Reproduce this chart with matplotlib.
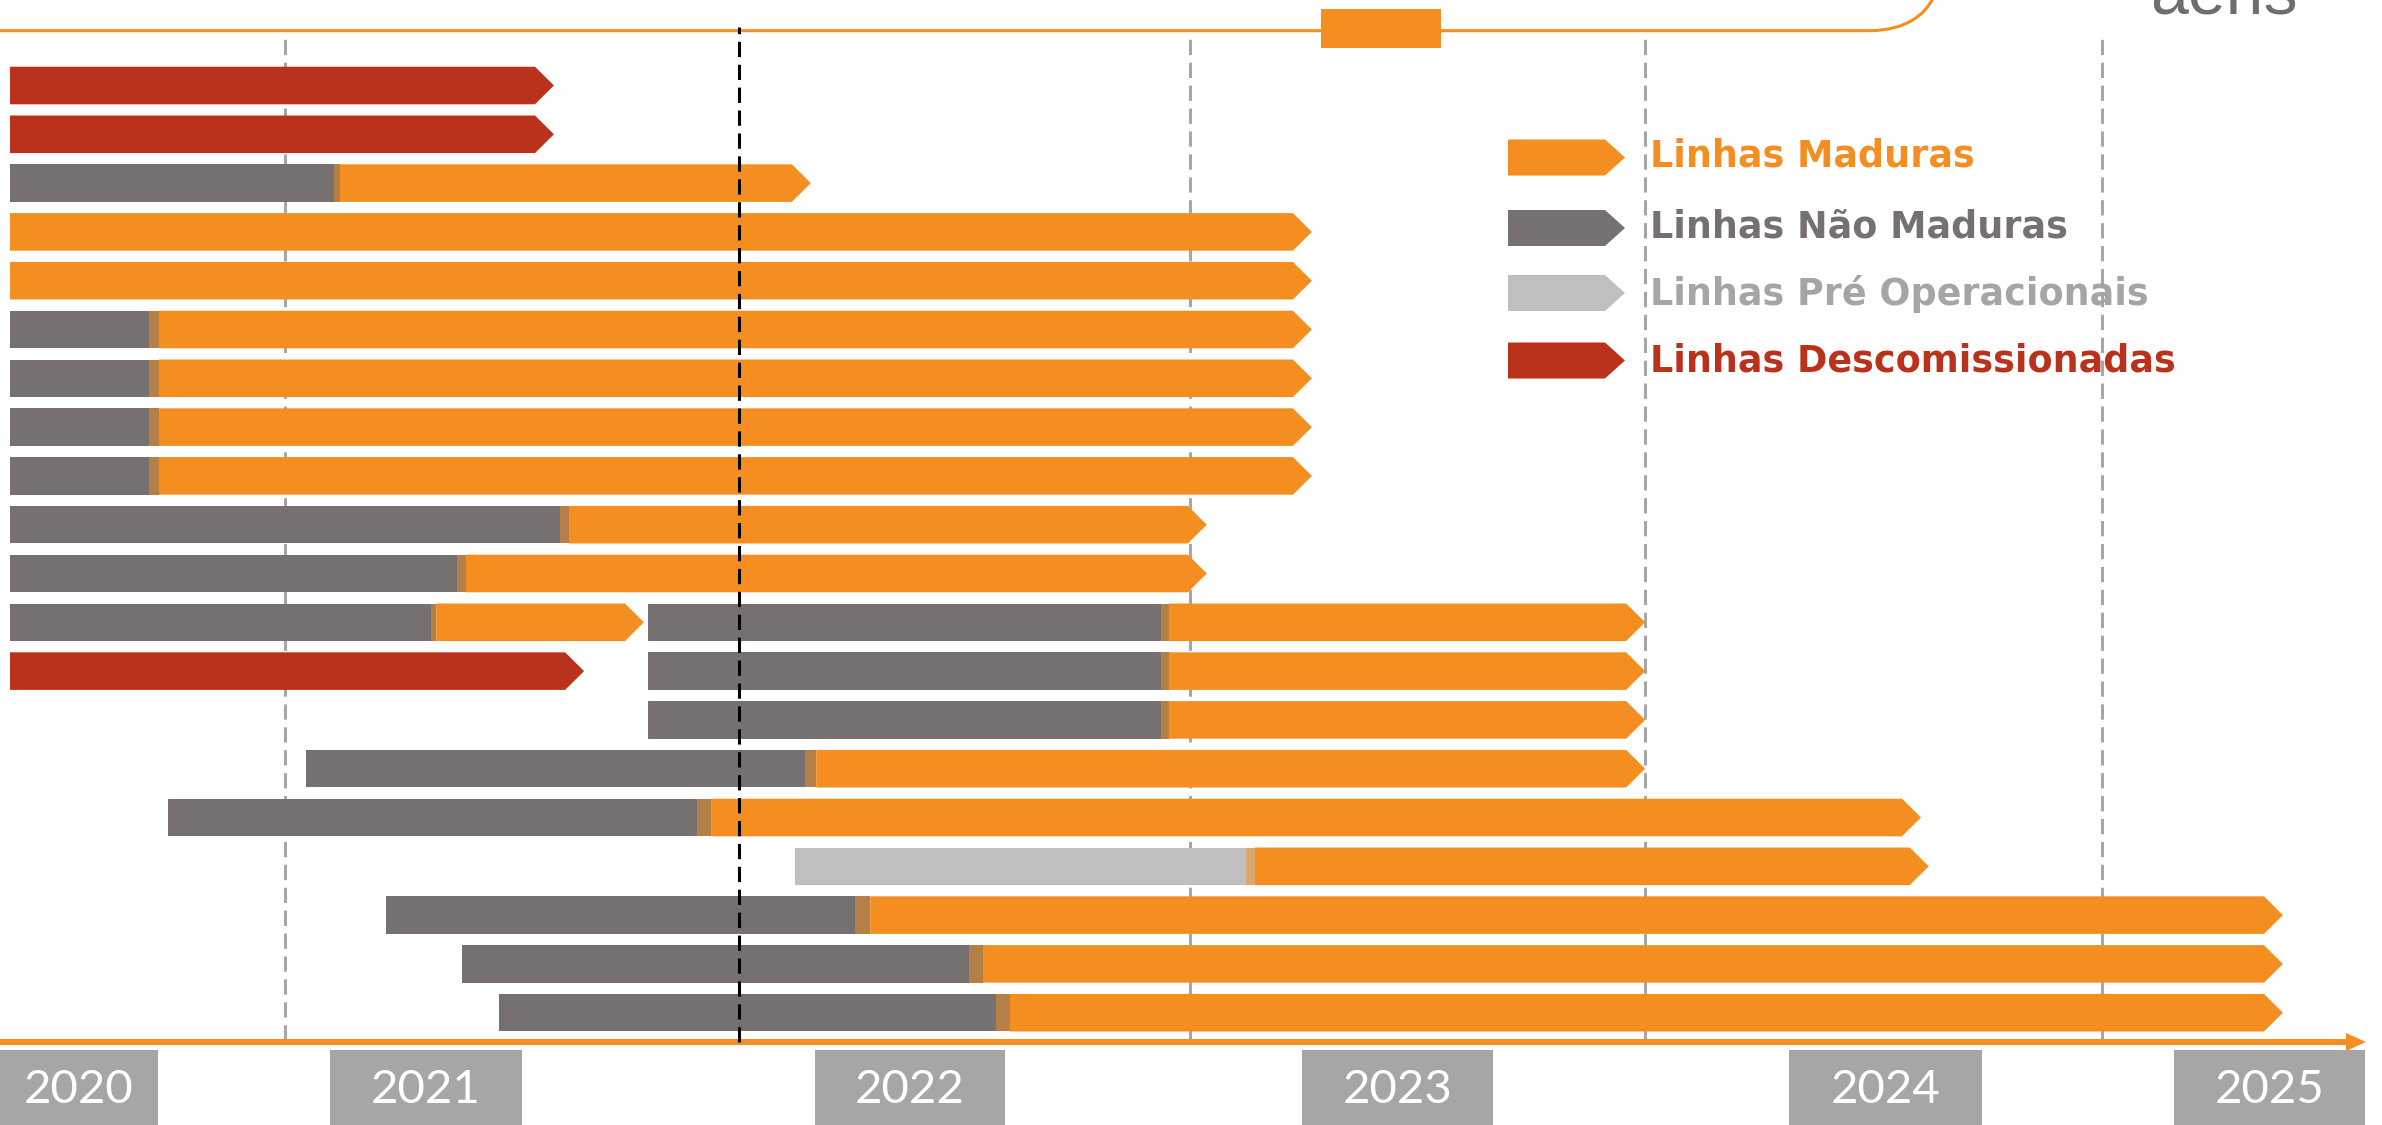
import matplotlib
matplotlib.use("Agg")
import matplotlib.pyplot as plt
from matplotlib.patches import Polygon, Rectangle, PathPatch
from matplotlib.path import Path

# Colours
ORANGE = "#F48E20"
GRAY = "#767170"
LIGHT = "#BFBFBF"
RED = "#BA321C"
GUIDE = "#A6A6A6"
BOX = "#A6A6A6"

# Timeline data (fractional years), row 1 = top
bar_row = [1, 2, 3, 4, 5, 6, 7, 8, 9, 10, 11, 12, 12, 13, 13, 14, 15, 16, 17, 18, 19, 20]
bar_first = ["red", "red", "gray", "orange", "orange", "gray", "gray", "gray", "gray", "gray",
             "gray", "gray", "gray", "red", "gray", "gray", "gray", "gray", "light", "gray",
             "gray", "gray"]
bar_start = [2020.145, 2020.145, 2020.145, 2020.145, 2020.145, 2020.145, 2020.145, 2020.145,
             2020.145, 2020.145, 2020.145, 2020.145, 2021.456, 2020.145, 2021.456, 2021.456,
             2020.753, 2020.469, 2021.758, 2020.918, 2021.074, 2021.150]
bar_switch = [None, None, 2020.811, None, None, 2020.431, 2020.431, 2020.431, 2020.431, 2021.275,
              2021.064, 2021.010, 2022.511, None, 2022.511, 2022.511, 2021.779, 2021.557,
              2022.686, 2021.882, 2022.116, 2022.172]
bar_mature = [None, None, 2020.823, None, None, 2020.451, 2020.451, 2020.451, 2020.451, 2021.294,
              2021.082, 2021.021, 2022.527, None, 2022.527, 2022.527, 2021.802, 2021.586,
              2022.704, 2021.913, 2022.145, 2022.200]
bar_end = [2021.263, 2021.263, 2021.791, 2022.821, 2022.821, 2022.821, 2022.821, 2022.821,
           2022.821, 2022.605, 2022.605, 2021.448, 2023.506, 2021.325, 2023.506, 2023.506,
           2023.506, 2024.073, 2024.089, 2024.817, 2024.817, 2024.817]

guide_years = [2020.710, 2022.570, 2023.506, 2024.445]
today_year = 2021.643

year_labels = ["2020", "2021", "2022", "2023", "2024", "2025"]
year_box_left = [2020.124, 2020.803, 2021.800, 2022.801, 2023.802, 2024.593]
year_box_right = [2020.449, 2021.197, 2022.190, 2023.193, 2024.198, 2024.986]

legend_labels = ["Linhas Maduras", "Linhas Não Maduras", "Linhas Pré Operacionais",
                 "Linhas Descomissionadas"]
legend_colors = [ORANGE, GRAY, LIGHT, RED]
legend_text_colors = [ORANGE, GRAY, "#A5A5A5", RED]

colors = {"orange": ORANGE, "gray": GRAY, "light": LIGHT, "red": RED}

W, H = 2382, 1125
fig = plt.figure(figsize=(W / 100, H / 100), dpi=100)
ax = fig.add_axes([0, 0, 1, 1])
ax.set_xlim(2020.1244, 2025.0206)
ax.set_ylim(22.301, -0.752)
ax.axis("off")

TIP = 0.039
HALF = 0.385


def px(x, y):
    # figure pixel (from top-left) -> axes fraction
    return (x / W, 1 - y / H)


def mix(c1, c2):
    a = matplotlib.colors.to_rgb(c1)
    b = matplotlib.colors.to_rgb(c2)
    return tuple((p + q) / 2 for p, q in zip(a, b))


def arrow_bar(x0, x1, y, color):
    pts = [(x0, y - HALF), (x1 - TIP, y - HALF), (x1, y), (x1 - TIP, y + HALF), (x0, y + HALF)]
    ax.add_patch(Polygon(pts, closed=True, fc=color, ec="none", zorder=3))


# guide lines
trans = ax.get_xaxis_transform()
ax.vlines(guide_years, 1 - 1040 / H, 1 - 32 / H, transform=trans, colors=GUIDE,
          linewidth=2.2, linestyles=(0, (5, 2.5)), zorder=1)
ax.vlines([today_year], 1 - 1042 / H, 1 - 27 / H, transform=trans, colors="black",
          linewidth=2.2, linestyles=(0, (5, 2.5)), zorder=5)

# bars
for r, kind, s, sw, m, e in zip(bar_row, bar_first, bar_start, bar_switch, bar_mature, bar_end):
    if sw is None:
        arrow_bar(s, e, r, colors[kind])
    else:
        ax.add_patch(Rectangle((s, r - HALF), sw - s, 2 * HALF, fc=colors[kind], ec="none", zorder=3))
        ax.add_patch(Rectangle((sw, r - HALF), m - sw, 2 * HALF, fc=mix(colors[kind], ORANGE),
                               ec="none", zorder=3))
        arrow_bar(m, e, r, ORANGE)

# time axis with arrow
ax.plot([0, 2350 / W], [1 - 1042 / H] * 2, transform=ax.transAxes, color=ORANGE,
        linewidth=4.3, solid_capstyle="butt", zorder=4)
ax.add_patch(Polygon([px(2346, 1033), px(2366, 1042), px(2346, 1051)], closed=True,
                     transform=ax.transAxes, fc=ORANGE, ec="none", zorder=4))

# year boxes
for lab, l, r in zip(year_labels, year_box_left, year_box_right):
    ax.add_patch(Rectangle((l, 0), r - l, 1 - 1050 / H, transform=trans, fc=BOX, ec="none", zorder=4))
    ax.text((l + r) / 2, 1 - 1090 / H, lab, transform=trans, ha="center", va="center",
            color="white", fontsize=34, family=["Lato", "DejaVu Sans"], zorder=5)

# legend
leg_y = [157.5, 228, 293, 360.5]
leg_base = [166.7, 238, 305, 372]
for lab, c, tc, yc, yb in zip(legend_labels, legend_colors, legend_text_colors, leg_y, leg_base):
    pts = [px(1508, yc - 18), px(1605, yc - 18), px(1625, yc), px(1605, yc + 18), px(1508, yc + 18)]
    ax.add_patch(Polygon(pts, closed=True, transform=ax.transAxes, fc=c, ec="none", zorder=3))
    ax.text(1650 / W, 1 - yb / H, lab, transform=ax.transAxes, ha="left", va="baseline",
            color=tc, fontsize=26.3, fontweight="bold", family="DejaVu Sans", zorder=6)

# top frame line with rounded corner
verts = [px(0, 30.7), px(1869, 30.7), px(1905, 30.7), px(1925, 15), px(1933, -2)]
codes = [Path.MOVETO, Path.LINETO, Path.CURVE4, Path.CURVE4, Path.CURVE4]
ax.add_patch(PathPatch(Path(verts, codes), transform=ax.transAxes, fc="none", ec=ORANGE,
                       lw=2.2, zorder=2))
ax.add_patch(Rectangle(px(1321, 48), 120 / W, 39 / H, transform=ax.transAxes, fc=ORANGE,
                       ec="none", zorder=3))
# logo text, cut by the top edge as in the source slide
ax.text(2150 / W, 1 - 13 / H, "aeris", transform=ax.transAxes, ha="left", va="baseline",
        color="#6E6E6E", fontsize=49, family=["Liberation Sans", "DejaVu Sans"])

fig.savefig("out.png", dpi=100)
